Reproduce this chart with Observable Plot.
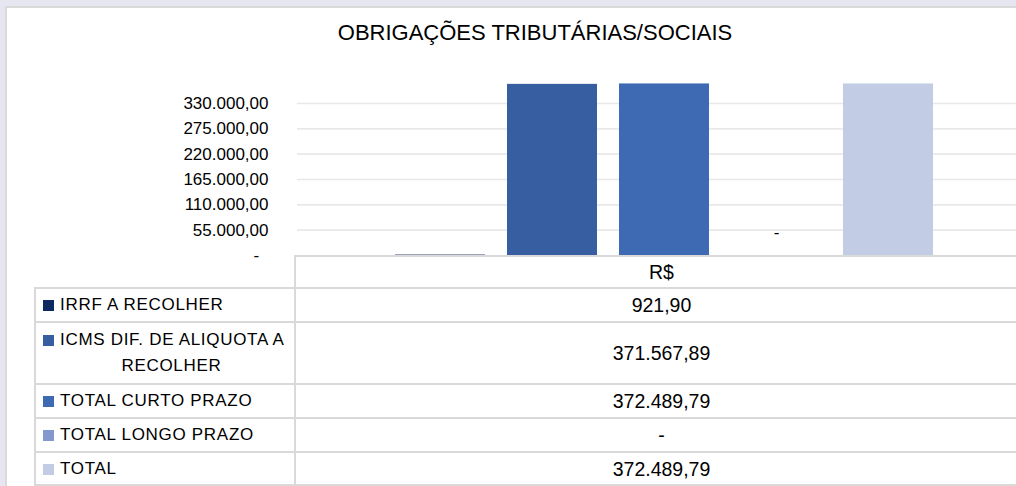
<!DOCTYPE html>
<html><head><meta charset="utf-8">
<script src="https://cdn.jsdelivr.net/npm/d3@7"></script>
<script src="https://cdn.jsdelivr.net/npm/@observablehq/plot@0.6"></script>
<style>
html,body{margin:0;padding:0;}
body{width:1016px;height:486px;overflow:hidden;background:#e6e6f0;font-family:"Liberation Sans",Arial,sans-serif;position:relative;}
#frame{position:absolute;left:5px;top:6px;width:1100px;height:500px;background:#fff;border-left:2px solid #dadada;border-top:2px solid #dadada;}
#title{position:absolute;top:20px;left:535px;transform:translateX(-50%);font-size:22px;white-space:nowrap;color:#000;}
#chart{position:absolute;left:0;top:0;}
.line{position:absolute;background:#d9d9d9;}
.cell{position:absolute;display:flex;align-items:center;justify-content:center;color:#000;font-size:19.5px;}
.lcell{position:absolute;display:flex;flex-direction:column;justify-content:center;color:#000;font-size:17px;line-height:26px;letter-spacing:0.7px;box-sizing:border-box;padding-left:8px;white-space:nowrap;}
.sq{display:inline-block;width:11px;height:11px;margin-right:6px;vertical-align:-1px;}
</style></head><body>
<div id="frame"></div>
<div id="chart"></div>
<div id="title"></div>
<div id="table"></div>
<script>
const title = "OBRIGAÇÕES TRIBUTÁRIAS/SOCIAIS";
const categories = ["IRRF A RECOLHER", "ICMS DIF. DE ALIQUOTA A RECOLHER", "TOTAL CURTO PRAZO", "TOTAL LONGO PRAZO", "TOTAL"];
const values = [921.90, 371567.89, 372489.79, 0, 372489.79];
const valueLabels = ["921,90", "371.567,89", "372.489,79", "-", "372.489,79"];
const colors = ["#0e2862", "#365ea0", "#3d6ab3", "#8399cd", "#c2cce4"];
const legendLines = [["IRRF A RECOLHER"], ["ICMS DIF. DE ALIQUOTA A", "RECOLHER"], ["TOTAL CURTO PRAZO"], ["TOTAL LONGO PRAZO"], ["TOTAL"]];
const columnHeader = "R$";
const yTicks = [0, 55000, 110000, 165000, 220000, 275000, 330000];

document.getElementById("title").textContent = title;

const data = categories.map((c, i) => ({cat: c, value: values[i]}));
const br = d3.formatLocale({decimal: ",", thousands: ".", grouping: [3], currency: ["R$", ""]}).format(",.2f");
const fmt = d => d === 0 ? "-\u2007" : br(d);

const chart = Plot.plot({
  width: 1016, height: 262,
  marginLeft: 297, marginRight: 0, marginTop: 0, marginBottom: 0,
  style: {background: "transparent", fontFamily: "'Liberation Sans', Arial, sans-serif", fontSize: "17px", color: "#000", overflow: "visible"},
  x: {domain: categories, range: [370.5, 956.8], padding: 0.2, axis: null, label: null},
  y: {domain: [0, 330000], range: [255, 103], label: null},
  color: {domain: categories, range: colors},
  marks: [
    Plot.gridY(yTicks.filter(d => d > 0), {stroke: "#e8e8e8", strokeOpacity: 1, strokeWidth: 1.6}),
    Plot.axisY(yTicks, {anchor: "left", tickSize: 0, tickPadding: 29, tickFormat: fmt, fontSize: 17, fill: "#000", label: null}),
    Plot.barY(data, {x: "cat", y: "value", fill: "cat"}),
    Plot.text(data.filter(d => d.value === 0), {x: "cat", y: "value", text: () => "-", dy: -23, fontSize: 17, fill: "#000"})
  ]
});
document.getElementById("chart").appendChild(chart);

// table
const table = document.getElementById("table");
const rowTops = [288, 322, 384, 418, 452];
const rowHeights = [34, 62, 34, 34, 34];
function line(x, y, w, h) {
  const d = document.createElement("div");
  d.className = "line";
  Object.assign(d.style, {left: x + "px", top: y + "px", width: w + "px", height: h + "px"});
  table.appendChild(d);
}
// header
const hdr = document.createElement("div");
hdr.className = "cell";
Object.assign(hdr.style, {left: "295px", top: "256px", width: "733px", height: "32px"});
hdr.textContent = columnHeader;
table.appendChild(hdr);
line(295, 255, 740, 2);
[288, 322, 384, 418, 452, 485].forEach(y => line(35, y - 1, 1000, 2));
line(294, 255, 2, 240);
line(34, 287, 2, 210);

categories.forEach((c, i) => {
  const lc = document.createElement("div");
  lc.className = "lcell";
  Object.assign(lc.style, {left: "35px", top: rowTops[i] + "px", width: "260px", height: rowHeights[i] + "px"});
  legendLines[i].forEach((t, j) => {
    const ln = document.createElement("div");
    if (j === 0) {
      const sq = document.createElement("span");
      sq.className = "sq";
      sq.style.background = colors[i];
      ln.appendChild(sq);
      ln.appendChild(document.createTextNode(t));
    } else {
      ln.style.width = "257px";
      ln.style.textAlign = "center";
      ln.textContent = t;
    }
    lc.appendChild(ln);
  });
  table.appendChild(lc);

  const vc = document.createElement("div");
  vc.className = "cell";
  Object.assign(vc.style, {left: "295px", top: rowTops[i] + "px", width: "733px", height: rowHeights[i] + "px"});
  vc.textContent = valueLabels[i];
  table.appendChild(vc);
});
</script>
</body></html>
